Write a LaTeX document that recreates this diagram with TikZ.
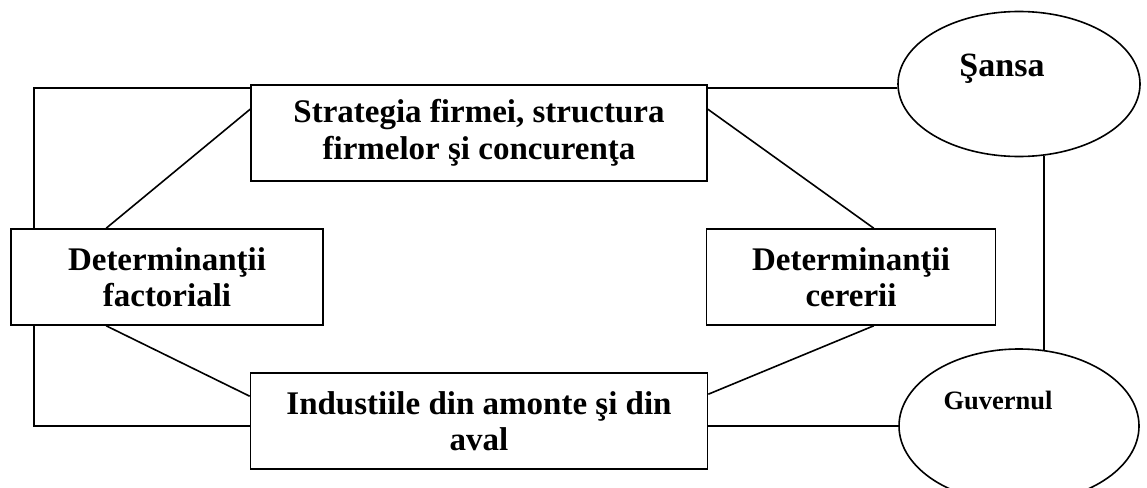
\documentclass[tikz,border=0pt]{standalone}
\usepackage{fontspec}
\setmainfont{Liberation Serif}
\usetikzlibrary{shapes.geometric}
\tikzset{
  caseta/.style={draw, line width=1.6pt, inner sep=0pt, align=center,
    minimum height=96pt, font=\bfseries\fontsize{33}{36.5}\selectfont},
  elipsa/.style={draw, ellipse, line width=1.6pt, inner sep=0pt},
  legatura/.style={line width=1.6pt}
}
\begin{document}
\begin{tikzpicture}[x=1pt,y=-1pt]
    \clip (0,0) rectangle (1147,487);

    % Casete
    \node[caseta, minimum width=456pt] (strat) at (479,133) {Strategia firmei, structura\\firmelor şi concurenţa};
    \node[caseta, minimum width=312pt] (factor) at (167,277) {Determinanţii\\factoriali};
    \node[caseta, minimum width=289pt] (cerere) at (851,277) {Determinanţii\\cererii};
    \node[caseta, minimum width=457pt] (ind) at (479,421) {Industiile din amonte şi din\\aval};

    % Elipse
    \node[elipsa, minimum width=242pt, minimum height=145pt] (sansa) at (1019,84) {};
    \node[elipsa, minimum width=240pt, minimum height=154pt] (guv) at (1019,426) {};
    \node[anchor=base, font=\bfseries\fontsize{34}{40}\selectfont] (sansa-t) at ([xshift=-17pt,yshift=8pt]sansa.center) {Şansa};
    \node[anchor=base, font=\bfseries\fontsize{26.5}{30}\selectfont] (guv-t) at ([xshift=-21pt,yshift=17pt]guv.center) {Guvernul};

    % Legaturi
    \draw[legatura] ([yshift=-4pt]strat.north west) -| ([xshift=24pt]factor.north west);
    \draw[legatura] ([xshift=24pt]factor.south west) |- ([yshift=-5pt]ind.west);
    \draw[legatura] ([yshift=-25pt]strat.north west) -- ([xshift=96pt]factor.north west);
    \draw[legatura] ([xshift=96pt]factor.south west) -- ([yshift=-24pt]ind.north west);
    \draw[legatura] ([yshift=-25pt]strat.north east) -- ([xshift=168pt]cerere.north west);
    \draw[legatura] ([xshift=168pt]cerere.south west) -- ([yshift=-22pt]ind.north east);
    \draw[legatura] ([yshift=-4pt]strat.north east) coordinate (s1) -- (s1 -| sansa.west);
    \draw[legatura] (guv.west -| ind.east) -- (guv.west);
    \draw[legatura] (sansa.-71.6) -- (sansa.-71.6 |- guv.72.6);
\end{tikzpicture}
\end{document}
